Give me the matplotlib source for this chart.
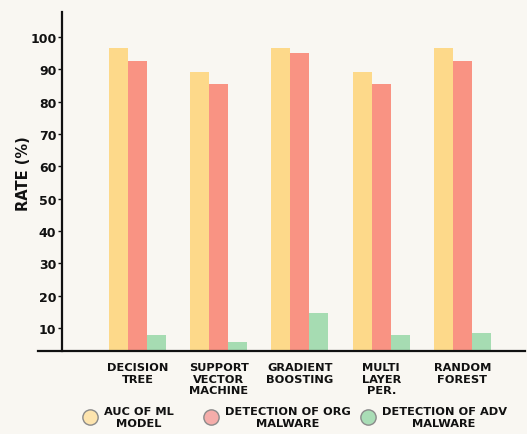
import matplotlib
matplotlib.use("Agg")
import matplotlib.pyplot as plt
from matplotlib.lines import Line2D
import numpy as np

categories = ["DECISION\nTREE", "SUPPORT\nVECTOR\nMACHINE", "GRADIENT\nBOOSTING", "MULTI\nLAYER\nPER.", "RANDOM\nFOREST"]
auc_ml = [96.6, 89.1, 96.6, 89.1, 96.6]
det_org = [92.7, 85.5, 95.1, 85.5, 92.7]
det_adv = [7.7, 5.6, 14.5, 7.7, 8.6]
series_labels = ["AUC OF ML\nMODEL", "DETECTION OF ORG\nMALWARE", "DETECTION OF ADV\nMALWARE"]
yticks = [10, 20, 30, 40, 50, 60, 70, 80, 90, 100]

bg = "#F9F7F2"
colors = ["#FDD98A", "#F99383", "#A6DCB2"]
legend_fill = ["#FDE4AE", "#F5ADAA", "#A9DDB6"]

plt.rcParams['font.family'] = ['DejaVu Sans']
W, H = 527, 435
fig = plt.figure(figsize=(W/100, H/100), dpi=100, facecolor=bg)
ax = fig.add_axes([38/W, 1-352/H, (525-38)/W, (352-13)/H])
ax.set_facecolor(bg)

x = np.arange(len(categories))
w = 0.234
for i, (vals, c) in enumerate(zip([auc_ml, det_org, det_adv], colors)):
    ax.bar(x + (i-1)*w, vals, width=w, color=c, edgecolor='none', zorder=2)

ax.set_xlim(-1.225, 4.77)
ax.set_ylim(2.9, 107.7)
ax.spines['top'].set_visible(False)
ax.spines['right'].set_visible(False)
ax.spines['left'].set_position(('data', -0.93))
ax.spines['left'].set_linewidth(1.6)
ax.spines['bottom'].set_linewidth(1.6)
ax.spines['left'].set_color('#111')
ax.spines['bottom'].set_color('#111')

ax.set_yticks(yticks)
ax.set_yticklabels([str(v) for v in yticks], fontsize=9, fontweight='bold', color='#111')
ax.tick_params(axis='y', length=3, width=1, pad=1, color='#111')
ax.set_xticks(x)
ax.set_xticklabels(categories, fontsize=8.2, fontweight='bold', color='#111', linespacing=1.2, va='top')
ax.tick_params(axis='x', length=0, pad=8)
ax.set_ylabel("RATE (%)", fontsize=10.5, fontweight='bold', color='#111')
ax.yaxis.set_label_coords((31-38)/487, (352-174)/339)

# legend: one entry per legend so each can be placed like the reference
circle_x = [90, 211, 368]
hl = 1.2
fs = 8.2
half_handle_px = hl * fs / 2 * 100 / 72
for lab, f, cx in zip(series_labels, legend_fill, circle_x):
    h = Line2D([], [], marker='o', linestyle='none', markersize=11,
               markerfacecolor=f, markeredgecolor='#8a8a8a', markeredgewidth=1)
    leg = fig.legend([h], [lab], loc='center left',
                     bbox_to_anchor=((cx - half_handle_px)/W, 1-418/H),
                     frameon=False, handlelength=hl, handletextpad=0.6,
                     borderpad=0, borderaxespad=0,
                     prop={'weight': 'bold', 'size': fs})
    for t in leg.get_texts():
        t.set_multialignment('center')
        t.set_linespacing(1.2)
        t.set_color('#111')

fig.savefig("out.png", dpi=100, facecolor=bg)
